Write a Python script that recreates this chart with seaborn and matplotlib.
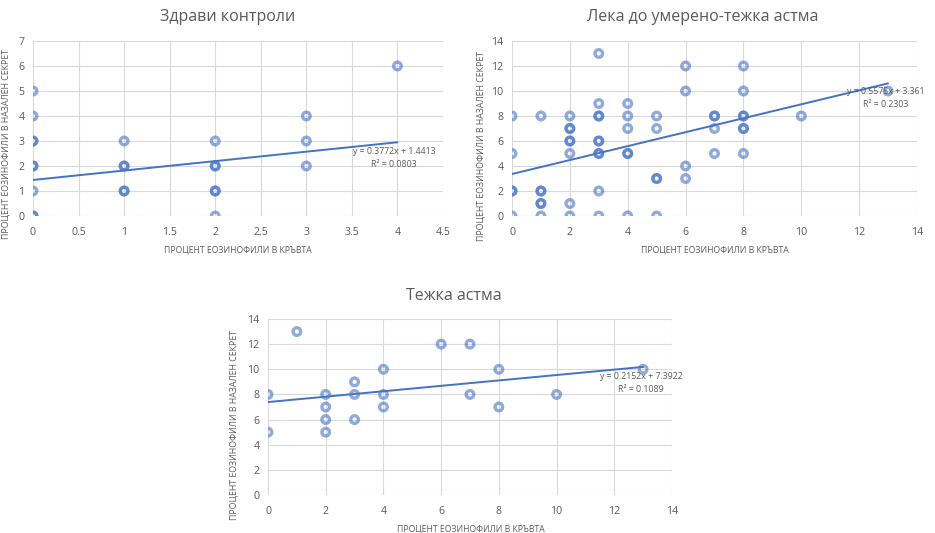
import numpy as np
import pandas as pd
import matplotlib
matplotlib.use("Agg")
import matplotlib.pyplot as plt
import seaborn as sns
from matplotlib import font_manager

# ---------------- data ----------------
titles = ["Здрави контроли", "Лека до умерено-тежка астма", "Тежка астма"]
x_label = "ПРОЦЕНТ ЕОЗИНОФИЛИ В КРЪВТА"
y_label = "ПРОЦЕНТ ЕОЗИНОФИЛИ В НАЗАЛЕН СЕКРЕТ"

# Здрави контроли (duplicates listed twice -> darker rings)
healthy_x = [0, 0, 0, 0, 0, 0, 0, 0, 0,
             1, 1, 1, 1, 1,
             2, 2, 2, 2, 2, 2,
             3, 3, 3,
             4]
healthy_y = [0, 0, 1, 2, 2, 3, 3, 4, 5,
             1, 1, 2, 2, 3,
             0, 1, 1, 2, 2, 3,
             2, 3, 4,
             6]

# Лека до умерено-тежка астма
mild_x = [0, 0, 0, 0, 0,
          1, 1, 1, 1, 1, 1,
          2, 2, 2, 2, 2, 2, 2, 2,
          3, 3, 3, 3, 3, 3, 3, 3, 3, 3,
          4, 4, 4, 4, 4, 4,
          5, 5, 5, 5, 5,
          6, 6, 6, 6,
          7, 7, 7, 7,
          8, 8, 8, 8, 8, 8, 8,
          10, 13]
mild_y = [0, 2, 2, 5, 8,
          0, 1, 1, 2, 2, 8,
          0, 1, 5, 6, 6, 7, 7, 8,
          0, 2, 5, 5, 6, 6, 8, 8, 9, 13,
          0, 5, 5, 7, 8, 9,
          0, 3, 3, 7, 8,
          3, 4, 10, 12,
          5, 7, 8, 8,
          5, 7, 7, 8, 8, 10, 12,
          8, 10]

# Тежка астма
severe_x = [0, 0, 1, 2, 2, 2, 2, 3, 3, 3, 4, 4, 4, 6, 7, 7, 8, 8, 10, 13]
severe_y = [5, 8, 13, 5, 6, 7, 8, 6, 8, 9, 7, 8, 10, 12, 8, 12, 7, 10, 8, 10]

# Excel linear trendline coefficients
slopes = [0.3772, 0.5575, 0.2152]
intercepts = [1.4413, 3.361, 7.3922]
r_squared = ["0.0803", "0.2303", "0.1089"]
slope_txt = ["0.3772", "0.5575", "0.2152"]
intercept_txt = ["1.4413", "3.361", "7.3922"]

x_limits = [(0, 4.5), (0, 14), (0, 14)]
y_limits = [(0, 7), (0, 14), (0, 14)]
x_steps = [0.5, 2, 2]
y_steps = [1, 2, 2]

# ---------------- style ----------------
sns.set_theme(style="white")
avail = {f.name for f in font_manager.fontManager.ttflist}
main_font = "Open Sans" if "Open Sans" in avail else "DejaVu Sans"
narrow_font = "Liberation Sans Narrow" if "Liberation Sans Narrow" in avail else main_font
plt.rcParams["font.family"] = [main_font, "DejaVu Sans"]

TEXT = "#595959"
GRID = "#D9D9D9"
MARK = "#4472C4"
LINE = "#4472C4"

fig = plt.figure(figsize=(9.35, 5.33), dpi=100)
W, H = 935, 533

def px_axes(l, t, r, b):
    return fig.add_axes([l / W, 1 - b / H, (r - l) / W, (b - t) / H])

axes = [px_axes(33, 41, 443, 216), px_axes(512, 41, 917, 216), px_axes(268, 319, 672, 495)]

datasets = [(healthy_x, healthy_y), (mild_x, mild_y), (severe_x, severe_y)]

title_pos = [(228, 17), (703, 17), (454, 296)]
eq_pos = [(394, 158), (886, 98), (641, 383)]
xlabel_coords = [(0.5, -0.17), (0.502, -0.17), (0.501, -0.168)]
ylabel_coords = [(-0.056, 0.41), (-0.066, 0.40), (-0.0725, 0.40)]

for i, ax in enumerate(axes):
    xs, ys = datasets[i]
    df = pd.DataFrame({"x": xs, "y": ys})
    sns.scatterplot(data=df, x="x", y="y", ax=ax, s=30, marker="o",
                    facecolor="none", edgecolor=MARK, linewidth=2.4,
                    alpha=0.6, zorder=3, legend=False)
    xr = np.array([min(xs), max(xs)], dtype=float)
    tl = pd.DataFrame({"x": xr, "y": slopes[i] * xr + intercepts[i]})
    sns.lineplot(data=tl, x="x", y="y", ax=ax, color=LINE, linewidth=1.4, zorder=4)

    ax.set_xlim(*x_limits[i])
    ax.set_ylim(*y_limits[i])
    ax.set_xticks(np.arange(x_limits[i][0], x_limits[i][1] + 1e-9, x_steps[i]))
    ax.set_yticks(np.arange(y_limits[i][0], y_limits[i][1] + 1e-9, y_steps[i]))
    ax.xaxis.set_major_formatter(plt.FuncFormatter(lambda v, p: f"{v:g}"))
    ax.grid(True, color=GRID, linewidth=0.8, zorder=0)
    ax.set_axisbelow(True)
    for sp in ax.spines.values():
        sp.set_visible(False)
    ax.tick_params(axis="both", length=0, labelsize=7.6, colors=TEXT)
    ax.tick_params(axis="x", pad=8)
    ax.tick_params(axis="y", pad=6)

    ax.set_xlabel(x_label, fontsize=6.2, color=TEXT, family=[narrow_font, "DejaVu Sans"])
    ax.set_ylabel(y_label, fontsize=6.3, color=TEXT, family=[narrow_font, "DejaVu Sans"])
    ax.xaxis.set_label_coords(*xlabel_coords[i])
    ax.yaxis.set_label_coords(*ylabel_coords[i])

    tx, ty = title_pos[i]
    fig.text(tx / W, 1 - ty / H, titles[i], ha="center", va="center",
             fontsize=11.5, color=TEXT)
    ex, ey = eq_pos[i]
    fig.text(ex / W, 1 - ey / H,
             f"y = {slope_txt[i]}x + {intercept_txt[i]}\nR² = {r_squared[i]}",
             ha="center", va="center", fontsize=6.3, color=TEXT,
             linespacing=1.45, family=[narrow_font, "DejaVu Sans"])

fig.savefig("out.png", dpi=100, facecolor="white")
